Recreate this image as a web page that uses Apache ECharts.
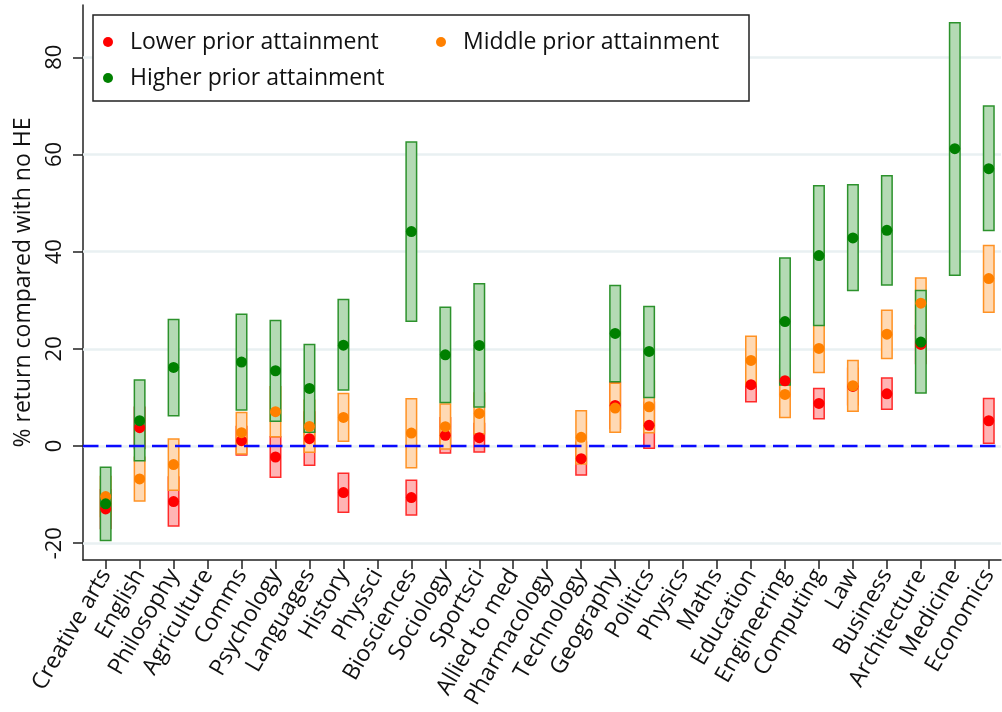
<!DOCTYPE html>
<html><head><meta charset="utf-8">
<script src="https://cdn.jsdelivr.net/npm/echarts@6/dist/echarts.min.js"></script>
<style>html,body{margin:0;padding:0;background:#fff}#c{width:1002px;height:712px}</style>
</head><body><div id="c"></div><script>
const categories = ['Creative arts','English','Philosophy','Agriculture','Comms','Psychology','Languages','History','Physsci','Biosciences','Sociology','Sportsci','Allied to med','Pharmacology','Technology','Geography','Politics','Physics','Maths','Education','Engineering','Computing','Law','Business','Architecture','Medicine','Economics'];
const yTicks = [-20, 0, 20, 40, 60, 80];

const lowerEst = [-12.95, 3.77, -11.44, null, 1.1, -2.26, 1.51, -9.59, null, -10.62, 2.19, 1.71, null, null, -2.6, 8.36, 4.25, null, null, 12.61, 13.43, 8.77, 12.27, 10.75, 20.9, null, 5.2];
const lowerLo  = [-17.0, -0.5, -16.44, null, -1.85, -6.44, -3.98, -13.64, null, -14.18, -1.44, -1.23, null, null, -5.96, 3.6, -0.48, null, null, 9.12, 10.3, 5.62, 8.5, 7.54, 17.0, null, 0.55];
const lowerHi  = [-9.0, 8.0, -6.4, null, 4.0, 1.92, 7.0, -5.62, null, -7.06, 5.8, 4.65, null, null, 0.76, 13.1, 9.0, null, null, 16.1, 16.6, 11.85, 16.0, 13.98, 24.8, null, 9.8];

const middleEst = [-10.4, -6.78, -3.83, null, 2.74, 7.06, 4.04, 5.89, null, 2.67, 3.98, 6.71, null, null, 1.78, 7.81, 8.08, null, null, 17.61, 10.62, 20.08, 12.4, 23.02, 29.39, null, 34.47];
const middleLo  = [-14.5, -11.3, -9.1, null, -1.64, 1.92, -1.3, 0.96, null, -4.45, -0.62, 2.5, null, null, -3.7, 2.81, 2.74, null, null, 12.6, 5.89, 15.15, 7.13, 18.03, 24.2, null, 27.54];
const middleHi  = [-6.3, -2.3, 1.44, null, 6.92, 12.2, 9.4, 10.83, null, 9.73, 8.63, 10.9, null, null, 7.26, 12.9, 13.4, null, null, 22.61, 15.35, 25.0, 17.61, 27.96, 34.6, null, 41.25];

const higherEst = [-11.9, 5.21, 16.17, null, 17.27, 15.49, 11.85, 20.76, null, 44.13, 18.77, 20.69, null, null, null, 23.16, 19.46, null, null, null, 25.62, 39.19, 42.82, 44.4, 21.38, 61.19, 57.08];
const higherLo  = [-19.46, -3.01, 6.24, null, 7.4, 5.07, 2.81, 11.51, null, 25.69, 8.97, 8.02, null, null, null, 13.22, 10.0, null, null, null, 12.54, 24.8, 32.0, 33.16, 10.89, 35.15, 44.33];
const higherHi  = [-4.38, 13.57, 26.04, null, 27.13, 25.83, 20.9, 30.15, null, 62.55, 28.57, 33.37, null, null, null, 33.03, 28.71, null, null, null, 38.71, 53.58, 53.79, 55.64, 32.0, 87.09, 69.95];

const FONT = '"Open Sans", "Noto Sans", sans-serif';
const groups = [
  {name: 'Lower prior attainment', est: lowerEst, lo: lowerLo, hi: lowerHi, dot: '#ff0000', fill: '#ffb4b4', stroke: '#ff2a2a'},
  {name: 'Middle prior attainment', est: middleEst, lo: middleLo, hi: middleHi, dot: '#ff8000', fill: '#ffd9b3', stroke: '#ff9224'},
  {name: 'Higher prior attainment', est: higherEst, lo: higherLo, hi: higherHi, dot: '#008000', fill: '#b4dab4', stroke: '#2c922c'}
];

const series = [];
groups.forEach(g => {
  series.push({
    name: g.name, type: 'scatter', symbol: 'circle', symbolSize: 11, z: 6,
    itemStyle: {color: g.dot, opacity: 1},
    data: g.est.map((v, i) => v == null ? null : [i, v]).filter(d => d)
  });
});
groups.forEach(g => {
  series.push({
    name: g.name, type: 'custom', z: 3,
    encode: {x: 0, y: [1, 2]},
    data: g.lo.map((v, i) => v == null ? null : [i, v, g.hi[i]]).filter(d => d),
    renderItem: (params, api) => {
      const x = api.value(0);
      const top = api.coord([x, api.value(2)]);
      const bot = api.coord([x, api.value(1)]);
      return {type: 'rect', shape: {x: top[0] - 5.25, y: top[1], width: 10.5, height: bot[1] - top[1]},
        style: {fill: g.fill, stroke: g.stroke, lineWidth: 1.5}};
    }
  });
});
// grid lines and the zero reference line
series.push({
  type: 'line', data: [], silent: true, z: 1,
  markLine: {silent: true, z: 1, symbol: 'none', label: {show: false}, animation: false,
    lineStyle: {color: '#e9f0f2', width: 2.5, type: 'solid'},
    data: yTicks.map(v => ({yAxis: v}))}
});
series.push({
  type: 'line', data: [], silent: true, z: 4,
  markLine: {silent: true, z: 4, symbol: 'none', label: {show: false}, animation: false,
    lineStyle: {color: '#0a0aff', width: 2.4, type: [15.5, 7.5]},
    data: [{yAxis: 0}]}
});

const chart = echarts.init(document.getElementById('c'));
chart.setOption({
  animation: false,
  backgroundColor: '#fff',
  textStyle: {fontFamily: FONT},
  grid: {left: 83, right: 1, top: 5, bottom: 152, containLabel: false},
  legend: [
    {data: ['Lower prior attainment', 'Higher prior attainment'], orient: 'vertical', left: 103, top: 29, padding: 0,
     itemWidth: 10, itemHeight: 10, itemGap: 10, icon: 'circle', z: 10,
     textStyle: {fontFamily: FONT, fontSize: 23, color: '#111', lineHeight: 26, padding: [0, 0, 0, 12]}},
    {data: ['Middle prior attainment'], orient: 'vertical', left: 436, top: 29, padding: 0,
     itemWidth: 10, itemHeight: 10, itemGap: 10, icon: 'circle', z: 10,
     textStyle: {fontFamily: FONT, fontSize: 23, color: '#111', lineHeight: 26, padding: [0, 0, 0, 12]}}
  ],
  graphic: [{type: 'rect', z: 8, shape: {x: 93, y: 15, width: 656, height: 86},
    style: {fill: '#fff', stroke: '#222', lineWidth: 1.5}}],
  xAxis: {
    type: 'value', min: -0.667, max: 26.36,
    splitLine: {show: false},
    axisLine: {show: true, onZero: false, lineStyle: {color: '#222', width: 1.5}},
    axisTick: {show: true, length: 9, customValues: categories.map((c, i) => i), lineStyle: {color: '#222', width: 1.5}},
    axisLabel: {customValues: categories.map((c, i) => i), formatter: v => categories[Math.round(v)] || '',
      rotate: 60, fontSize: 23, color: '#111', fontFamily: FONT, margin: 11}
  },
  yAxis: {
    type: 'value', min: -23.46, max: 90.76,
    name: '% return compared with no HE', nameLocation: 'middle', nameGap: 48,
    nameTextStyle: {fontSize: 23, color: '#111', fontFamily: FONT},
    splitLine: {show: false},
    axisLine: {show: true, onZero: false, lineStyle: {color: '#222', width: 1.5}},
    axisTick: {show: true, length: 10, customValues: yTicks, lineStyle: {color: '#222', width: 1.5}},
    axisLabel: {customValues: yTicks, rotate: 90, fontSize: 22, color: '#111', fontFamily: FONT, margin: 17}
  },
  series: series
});
</script></body></html>
